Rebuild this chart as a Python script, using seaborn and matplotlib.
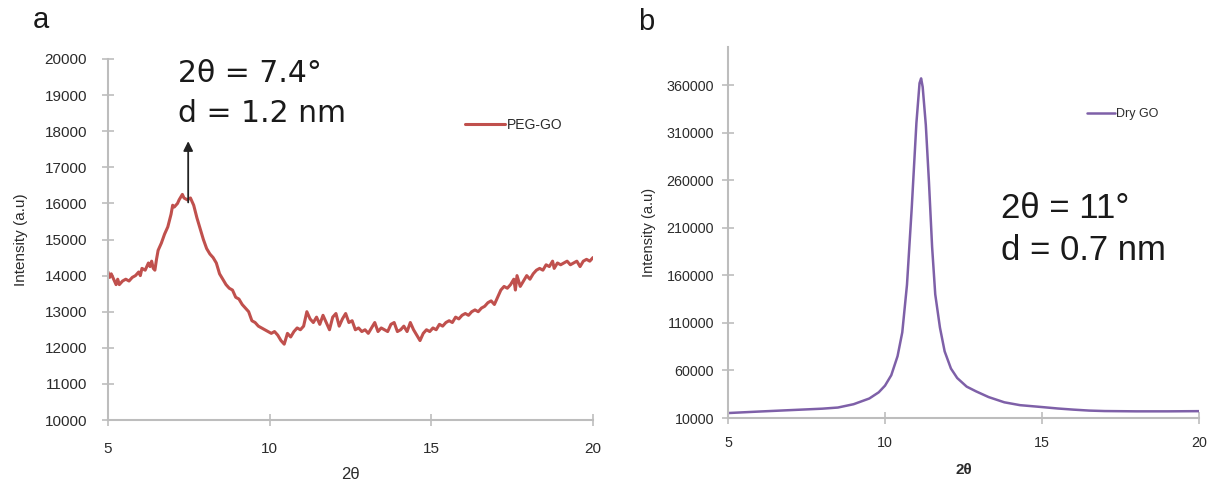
import matplotlib
matplotlib.use("Agg")
import matplotlib.pyplot as plt
import seaborn as sns
import pandas as pd

# ---------------- data ----------------
peg_two_theta = [5.00, 5.05, 5.10, 5.15, 5.20, 5.25, 5.30, 5.35, 5.45, 5.55, 5.65, 5.75, 5.85, 5.95,
                 6.00, 6.05, 6.15, 6.25, 6.30, 6.35, 6.40, 6.45, 6.50, 6.55, 6.65, 6.75, 6.85, 6.95,
                 7.00, 7.05, 7.15, 7.20, 7.30, 7.35, 7.45, 7.55, 7.65, 7.75, 7.85, 7.95, 8.05, 8.15,
                 8.25, 8.35, 8.45, 8.55, 8.65, 8.75, 8.85, 8.95, 9.05, 9.15, 9.25, 9.35, 9.45, 9.55,
                 9.65, 9.75, 9.85, 9.95, 10.05, 10.15, 10.25, 10.35, 10.45, 10.50, 10.55, 10.65,
                 10.75, 10.85, 10.95, 11.05, 11.15, 11.25, 11.35, 11.45, 11.55, 11.65, 11.75, 11.85,
                 11.95, 12.05, 12.15, 12.25, 12.35, 12.45, 12.55, 12.65, 12.75, 12.85, 12.95, 13.05,
                 13.15, 13.25, 13.35, 13.45, 13.55, 13.65, 13.75, 13.85, 13.95, 14.05, 14.15, 14.25,
                 14.35, 14.45, 14.55, 14.65, 14.75, 14.85, 14.95, 15.05, 15.15, 15.25, 15.35, 15.45,
                 15.55, 15.65, 15.75, 15.85, 15.95, 16.05, 16.15, 16.25, 16.35, 16.45, 16.55, 16.65,
                 16.75, 16.85, 16.95, 17.05, 17.15, 17.25, 17.35, 17.45, 17.55, 17.60, 17.65, 17.75,
                 17.85, 17.95, 18.05, 18.15, 18.25, 18.35, 18.45, 18.55, 18.65, 18.75, 18.80, 18.90,
                 19.00, 19.10, 19.20, 19.30, 19.40, 19.50, 19.60, 19.70, 19.80, 19.90, 20.00]
peg_intensity = [14100, 13950, 14050, 13950, 13850, 13750, 13900, 13750, 13850, 13900, 13850, 13950, 14000, 14100,
                 14000, 14200, 14150, 14350, 14250, 14400, 14200, 14150, 14450, 14700, 14900, 15150, 15350, 15700,
                 15950, 15900, 16000, 16100, 16250, 16150, 16100, 16150, 15950, 15600, 15300, 15000, 14750, 14600,
                 14500, 14350, 14050, 13900, 13750, 13650, 13600, 13400, 13350, 13200, 13100, 13000, 12750, 12700,
                 12600, 12550, 12500, 12450, 12400, 12450, 12350, 12200, 12100, 12250, 12400, 12300,
                 12450, 12550, 12500, 12600, 13000, 12800, 12700, 12850, 12650, 12900, 12700, 12500,
                 12850, 12950, 12600, 12800, 12950, 12700, 12750, 12500, 12550, 12450, 12500, 12400,
                 12550, 12700, 12450, 12550, 12500, 12450, 12650, 12700, 12450, 12500, 12600, 12450,
                 12700, 12500, 12350, 12200, 12400, 12500, 12450, 12550, 12500, 12650, 12600, 12700,
                 12750, 12700, 12850, 12800, 12900, 12950, 12900, 13000, 13050, 13000, 13100, 13150,
                 13250, 13300, 13200, 13400, 13600, 13700, 13650, 13750, 13900, 13600, 14000, 13700,
                 13850, 14000, 13900, 14050, 14150, 14200, 14150, 14300, 14250, 14400, 14200, 14350,
                 14300, 14350, 14400, 14300, 14350, 14400, 14250, 14400, 14450, 14400, 14500]

dry_two_theta = [5.0, 6.0, 7.0, 8.0, 8.5, 9.0, 9.5, 9.8, 10.0, 10.2, 10.4, 10.55, 10.7, 10.85,
                 11.0, 11.1, 11.15, 11.2, 11.3, 11.4, 11.5, 11.6, 11.75, 11.9, 12.1, 12.3, 12.6,
                 12.9, 13.3, 13.8, 14.3, 15.0, 15.5, 16.0, 16.5, 17.0, 18.0, 19.0, 20.0]
dry_intensity = [15200, 16800, 18300, 19800, 21000, 24500, 30500, 37000, 44000, 55000, 75000, 100000,
                 150000, 230000, 320000, 362000, 367000, 358000, 318000, 258000, 190000, 140000, 105000,
                 80000, 62000, 52000, 43000, 38000, 32000, 26500, 23500, 21500, 20000, 18800, 17800,
                 17300, 17000, 17000, 17200]

peg_yticks = [10000, 11000, 12000, 13000, 14000, 15000, 16000, 17000, 18000, 19000, 20000]
dry_yticks = [10000, 60000, 110000, 160000, 210000, 260000, 310000, 360000]
x_ticks = [5, 10, 15, 20]

peg_df = pd.DataFrame({"2θ": peg_two_theta, "Intensity": peg_intensity})
dry_df = pd.DataFrame({"2θ": dry_two_theta, "Intensity": dry_intensity})

# ---------------- style ----------------
sns.set_theme(style="white")
plt.rcParams["font.family"] = ["Liberation Sans", "DejaVu Sans"]

W, H = 1215, 491
fig = plt.figure(figsize=(W / 100, H / 100), dpi=100)

def frac_box(l, r, t, b):
    return [l / W, 1 - b / H, (r - l) / W, (b - t) / H]

spine_col = "#BDBDBD"
tick_col = "#2b2b2b"
red = "#C0504D"
purple = "#7E60A8"

ax1 = fig.add_axes(frac_box(108, 593, 59, 420))
ax2 = fig.add_axes(frac_box(728, 1199, 47, 418))

sns.lineplot(data=peg_df, x="2θ", y="Intensity", ax=ax1, color=red, lw=2.2,
             label="PEG-GO", sort=False, estimator=None)
sns.lineplot(data=dry_df, x="2θ", y="Intensity", ax=ax2, color=purple, lw=1.8,
             label="Dry GO", sort=False, estimator=None)

for ax in (ax1, ax2):
    for s in ("top", "right"):
        ax.spines[s].set_visible(False)
    for s in ("left", "bottom"):
        ax.spines[s].set_color(spine_col)
        ax.spines[s].set_linewidth(1.5)
    ax.tick_params(axis="both", direction="inout", length=8, width=1.2, color=spine_col,
                   labelcolor=tick_col, left=True, bottom=True)
    ax.set_xlim(5, 20)
    ax.set_xticks(x_ticks)
    ax.grid(False)

ax1.set_ylim(10000, 20000)
ax1.set_yticks(peg_yticks)
ax1.tick_params(labelsize=11)
ax1.tick_params(axis="y", pad=11)
ax1.tick_params(axis="x", pad=12)
ax2.set_ylim(10000, 400000)
ax2.set_yticks(dry_yticks)
ax2.tick_params(labelsize=10.3)
ax2.tick_params(axis="y", pad=6)
ax2.tick_params(axis="x", pad=9)

ax1.set_xlabel("2θ", fontsize=12, color=tick_col, labelpad=8)
ax1.set_ylabel("Intensity (a.u)", fontsize=11, color=tick_col, labelpad=12)
ax2.set_xlabel("2θ", fontsize=11, color=tick_col, labelpad=9, fontweight="bold")
ax2.set_ylabel("Intensity (a.u)", fontsize=10.5, color=tick_col, labelpad=8)

leg1 = ax1.legend(loc="upper left", bbox_to_anchor=((465 - 108) / (593 - 108), 1 - (118 - 59) / (420 - 59)),
                  frameon=False, fontsize=10, handlelength=2.9, handletextpad=0.1,
                  borderaxespad=0, borderpad=0)
leg2 = ax2.legend(loc="upper left", bbox_to_anchor=((1087 - 728) / (1199 - 728), 1 - (108 - 47) / (418 - 47)),
                  frameon=False, fontsize=9, handlelength=2.2, handletextpad=0.1,
                  borderaxespad=0, borderpad=0)
for t in leg1.get_texts() + leg2.get_texts():
    t.set_color(tick_col)

# arrow marking the PEG-GO peak
ax1.annotate("", xy=(7.48, 17800), xytext=(7.48, 15950),
             arrowprops=dict(arrowstyle="-|>", color="#222222", lw=1.3, mutation_scale=14))

# peak annotations
fam_a = ["DejaVu Sans"]
fig.text(178 / W, 1 - 74 / H, "2θ = 7.4°", fontsize=21.5, color="#1a1a1a", va="center", ha="left", family=fam_a)
fig.text(178 / W, 1 - 114 / H, "d = 1.2 nm", fontsize=21.5, color="#1a1a1a", va="center", ha="left", family=fam_a)
fig.text(1001 / W, 1 - 208 / H, "2θ = 11°", fontsize=25, color="#1a1a1a", va="center", ha="left")
fig.text(1001 / W, 1 - 251 / H, "d = 0.7 nm", fontsize=25, color="#1a1a1a", va="center", ha="left")

# panel letters
fig.text(33 / W, 1 - 20 / H, "a", fontsize=21, color="#1a1a1a", va="center", ha="left")
fig.text(638 / W, 1 - 22 / H, "b", fontsize=21, color="#1a1a1a", va="center", ha="left")

fig.savefig("out.png", dpi=100)
